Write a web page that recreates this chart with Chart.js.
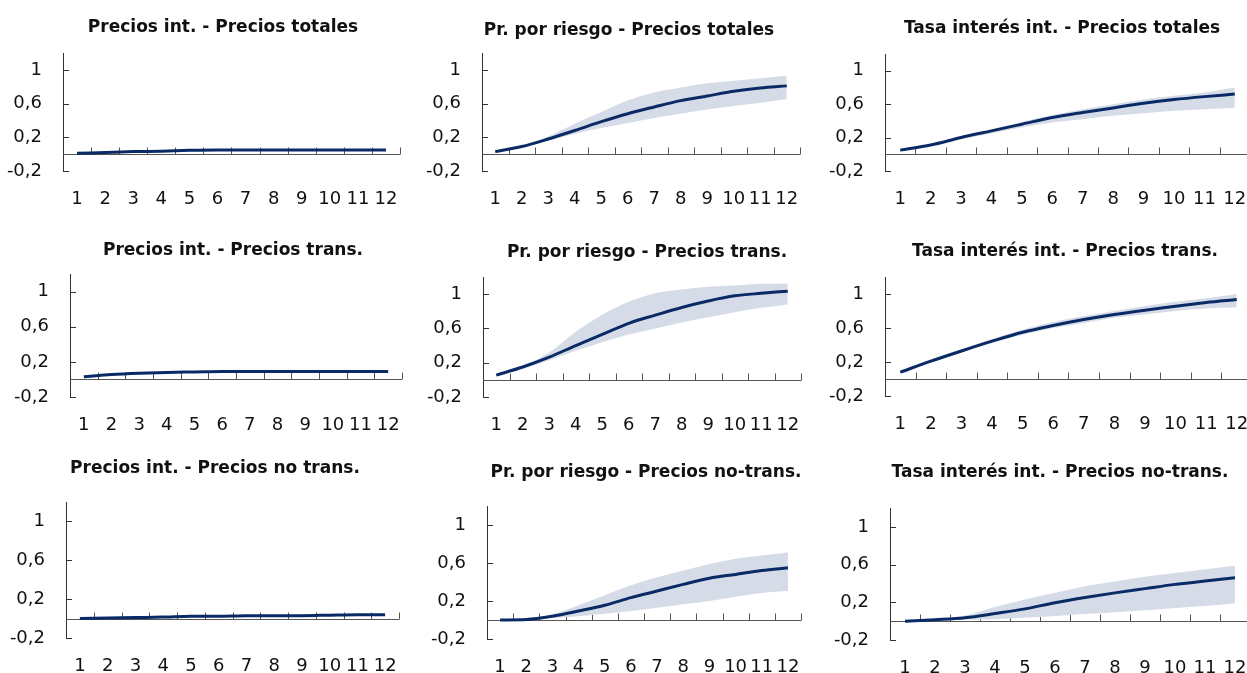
<!DOCTYPE html>
<html>
<head>
<meta charset="utf-8">
<script src="https://cdn.jsdelivr.net/npm/chart.js@4.4.1/dist/chart.umd.min.js"></script>
<style>
  html, body { margin: 0; padding: 0; background: #fff; }
  body { width: 1247px; height: 673px; position: relative; overflow: hidden; }
  canvas { position: absolute; }
</style>
</head>
<body>
<script>
// horizons and y ticks shared by all nine panels
const periods = ['1', '2', '3', '4', '5', '6', '7', '8', '9', '10', '11', '12'];
const yTicks = [-0.2, 0.2, 0.6, 1];

const titles = [
  'Precios int. - Precios totales',
  'Pr. por riesgo - Precios totales',
  'Tasa interés int. - Precios totales',
  'Precios int. - Precios trans.',
  'Pr. por riesgo - Precios trans.',
  'Tasa interés int. - Precios trans.',
  'Precios int. - Precios no trans.',
  'Pr. por riesgo - Precios no-trans.',
  'Tasa interés int. - Precios no-trans.'
];

// responses: median and band (upper / lower)
const intTotMid  = [0.01, 0.02, 0.03, 0.035, 0.045, 0.05, 0.05, 0.05, 0.05, 0.05, 0.05, 0.05];
const intTotHigh = [0.015, 0.025, 0.035, 0.04, 0.05, 0.055, 0.055, 0.055, 0.055, 0.055, 0.055, 0.055];
const intTotLow  = [0.005, 0.015, 0.025, 0.03, 0.04, 0.045, 0.045, 0.045, 0.045, 0.045, 0.045, 0.045];

const riskTotMid  = [0.03, 0.09, 0.18, 0.28, 0.385, 0.48, 0.56, 0.635, 0.69, 0.745, 0.785, 0.81];
const riskTotHigh = [0.04, 0.10, 0.21, 0.36, 0.50, 0.635, 0.73, 0.79, 0.84, 0.87, 0.90, 0.93];
const riskTotLow  = [0.02, 0.08, 0.16, 0.24, 0.31, 0.37, 0.43, 0.48, 0.53, 0.57, 0.61, 0.65];

const rateTotMid  = [0.05, 0.11, 0.20, 0.28, 0.36, 0.44, 0.50, 0.555, 0.61, 0.655, 0.69, 0.72];
const rateTotHigh = [0.06, 0.12, 0.21, 0.30, 0.39, 0.47, 0.54, 0.60, 0.655, 0.70, 0.74, 0.80];
const rateTotLow  = [0.04, 0.10, 0.18, 0.25, 0.32, 0.38, 0.42, 0.46, 0.49, 0.52, 0.54, 0.555];

const intTrMid  = [0.03, 0.055, 0.07, 0.08, 0.085, 0.09, 0.09, 0.09, 0.09, 0.09, 0.09, 0.09];
const intTrHigh = [0.035, 0.06, 0.075, 0.085, 0.09, 0.095, 0.095, 0.095, 0.095, 0.095, 0.095, 0.095];
const intTrLow  = [0.025, 0.05, 0.065, 0.075, 0.08, 0.085, 0.085, 0.085, 0.085, 0.085, 0.085, 0.085];

const riskTrMid  = [0.055, 0.15, 0.265, 0.40, 0.53, 0.66, 0.755, 0.845, 0.92, 0.98, 1.01, 1.035];
const riskTrHigh = [0.06, 0.17, 0.32, 0.56, 0.76, 0.91, 1.01, 1.055, 1.085, 1.10, 1.12, 1.125];
const riskTrLow  = [0.05, 0.13, 0.23, 0.34, 0.44, 0.53, 0.60, 0.67, 0.73, 0.79, 0.84, 0.88];

const rateTrMid  = [0.08, 0.21, 0.33, 0.445, 0.55, 0.63, 0.70, 0.76, 0.81, 0.855, 0.90, 0.935];
const rateTrHigh = [0.09, 0.23, 0.35, 0.47, 0.58, 0.67, 0.74, 0.80, 0.86, 0.91, 0.95, 1.0];
const rateTrLow  = [0.07, 0.19, 0.31, 0.42, 0.52, 0.60, 0.66, 0.72, 0.76, 0.80, 0.83, 0.84];

const intNtMid  = [0.0, 0.005, 0.01, 0.015, 0.025, 0.025, 0.03, 0.03, 0.03, 0.035, 0.04, 0.04];
const intNtHigh = [0.005, 0.01, 0.015, 0.02, 0.03, 0.03, 0.035, 0.035, 0.035, 0.04, 0.045, 0.045];
const intNtLow  = [-0.005, 0.0, 0.005, 0.01, 0.02, 0.02, 0.025, 0.025, 0.025, 0.03, 0.035, 0.035];

const riskNtMid  = [0.0, 0.005, 0.04, 0.095, 0.155, 0.235, 0.305, 0.375, 0.44, 0.48, 0.52, 0.55];
const riskNtHigh = [0.0, 0.01, 0.06, 0.155, 0.26, 0.365, 0.45, 0.52, 0.59, 0.645, 0.68, 0.71];
const riskNtLow  = [0.0, 0.0, 0.02, 0.04, 0.065, 0.095, 0.13, 0.165, 0.20, 0.245, 0.285, 0.305];

const rateNtMid  = [0.0, 0.015, 0.035, 0.08, 0.13, 0.195, 0.25, 0.30, 0.345, 0.39, 0.425, 0.46];
const rateNtHigh = [0.0, 0.02, 0.06, 0.15, 0.23, 0.30, 0.37, 0.42, 0.47, 0.51, 0.55, 0.59];
const rateNtLow  = [0.0, 0.01, 0.015, 0.02, 0.035, 0.055, 0.075, 0.095, 0.115, 0.14, 0.16, 0.19];

const series = [
  [intTotMid, intTotHigh, intTotLow],
  [riskTotMid, riskTotHigh, riskTotLow],
  [rateTotMid, rateTotHigh, rateTotLow],
  [intTrMid, intTrHigh, intTrLow],
  [riskTrMid, riskTrHigh, riskTrLow],
  [rateTrMid, rateTrHigh, rateTrLow],
  [intNtMid, intNtHigh, intNtLow],
  [riskNtMid, riskNtHigh, riskNtLow],
  [rateNtMid, rateNtHigh, rateNtLow]
];

// plot area of each panel on the page and where its title sits
const boxes = [
  { left: 63,  right: 400,  top: 53,  bottom: 171, titleX: 223,  titleY: 27 },
  { left: 482, right: 800,  top: 53,  bottom: 171, titleX: 629,  titleY: 30 },
  { left: 885, right: 1250, top: 54,  bottom: 171, titleX: 1062, titleY: 28 },
  { left: 70,  right: 402,  top: 274, bottom: 397, titleX: 233,  titleY: 250 },
  { left: 483, right: 801,  top: 277, bottom: 397, titleX: 647,  titleY: 252 },
  { left: 885, right: 1252, top: 277, bottom: 396, titleX: 1065, titleY: 251 },
  { left: 66,  right: 399,  top: 502, bottom: 638, titleX: 215,  titleY: 468 },
  { left: 487, right: 801,  top: 506, bottom: 639, titleX: 646,  titleY: 472 },
  { left: 890, right: 1250, top: 508, bottom: 640, titleX: 1060, titleY: 472 }
];

const NAVY = '#0a2a66';
const BAND = '#d6dce7';
const FONT = '"DejaVu Sans", sans-serif';
const Y_AXIS_W = 62;
const X_AXIS_H = 40;
const TITLE_SIZE = 17;
const TITLE_LH = TITLE_SIZE * 1.2;
const TICK_SIZE = 18;

// zero line with upward ticks between periods, short inward ticks on the y axis
const axisMarks = {
  id: 'axisMarks',
  beforeDatasetsDraw(chart) {
    const { ctx, chartArea: a, scales: { x, y } } = chart;
    const zero = Math.round(y.getPixelForValue(0)) + 0.5;
    const half = (x.getPixelForValue(1) - x.getPixelForValue(0)) / 2;
    ctx.save();
    ctx.lineWidth = 1;
    ctx.strokeStyle = '#555';
    ctx.beginPath();
    ctx.moveTo(a.left, zero);
    ctx.lineTo(a.right, zero);
    periods.forEach((p, i) => {
      const px = Math.round(x.getPixelForValue(i) + half) + 0.5;
      ctx.moveTo(px, zero);
      ctx.lineTo(px, zero - 7);
    });
    ctx.stroke();
    ctx.strokeStyle = '#333';
    ctx.beginPath();
    yTicks.forEach(v => {
      const py = Math.round(y.getPixelForValue(v)) + 0.5;
      ctx.moveTo(a.left, py);
      ctx.lineTo(a.left + 6, py);
    });
    ctx.stroke();
    ctx.restore();
  }
};

function makePanel(i) {
  const b = boxes[i];
  const [mid, high, low] = series[i];
  const canvasLeft = b.left - Y_AXIS_W;
  const canvasRight = 2 * b.titleX - canvasLeft;
  const canvasTop = Math.round(b.titleY - TITLE_LH / 2);
  const width = canvasRight - canvasLeft;
  const height = b.bottom + X_AXIS_H - canvasTop;

  const canvas = document.createElement('canvas');
  canvas.width = width;
  canvas.height = height;
  canvas.style.left = canvasLeft + 'px';
  canvas.style.top = canvasTop + 'px';
  canvas.style.width = width + 'px';
  canvas.style.height = height + 'px';
  document.body.appendChild(canvas);

  new Chart(canvas.getContext('2d'), {
    type: 'line',
    data: {
      labels: periods,
      datasets: [
        {
          data: mid,
          borderColor: NAVY,
          borderWidth: 3,
          pointRadius: 0,
          cubicInterpolationMode: 'monotone',
          fill: false
        },
        {
          data: high,
          borderWidth: 0,
          borderColor: 'rgba(0,0,0,0)',
          backgroundColor: BAND,
          pointRadius: 0,
          cubicInterpolationMode: 'monotone',
          fill: '+1'
        },
        {
          data: low,
          borderWidth: 0,
          borderColor: 'rgba(0,0,0,0)',
          pointRadius: 0,
          cubicInterpolationMode: 'monotone',
          fill: false
        }
      ]
    },
    options: {
      responsive: false,
      animation: false,
      devicePixelRatio: 1,
      layout: { padding: 0 },
      plugins: {
        legend: { display: false },
        tooltip: { enabled: false },
        title: {
          display: true,
          text: titles[i],
          color: '#111',
          font: { family: FONT, size: TITLE_SIZE, weight: 'bold' },
          padding: { top: 0, bottom: b.top - canvasTop - TITLE_LH }
        }
      },
      scales: {
        x: {
          type: 'category',
          offset: true,
          grid: { display: false },
          border: { display: false },
          ticks: {
            color: '#111',
            font: { family: FONT, size: TICK_SIZE },
            padding: 10,
            autoSkip: false,
            maxRotation: 0,
            minRotation: 0
          },
          afterFit: s => { s.height = X_AXIS_H; }
        },
        y: {
          min: -0.2,
          max: 1.2,
          grid: { display: false },
          border: { display: true, color: '#333', width: 1 },
          afterBuildTicks: s => { s.ticks = yTicks.map(v => ({ value: v })); },
          ticks: {
            color: '#111',
            font: { family: FONT, size: TICK_SIZE },
            padding: 13,
            callback: v => String(v).replace('.', ',')
          },
          afterFit: s => { s.width = Y_AXIS_W; }
        },
        pad: {
          type: 'linear',
          position: 'right',
          grid: { display: false },
          border: { display: false },
          ticks: { display: false },
          afterFit: s => { s.width = canvasRight - b.right; }
        }
      }
    },
    plugins: [axisMarks]
  });
}

boxes.forEach((b, i) => makePanel(i));
</script>
</body>
</html>
